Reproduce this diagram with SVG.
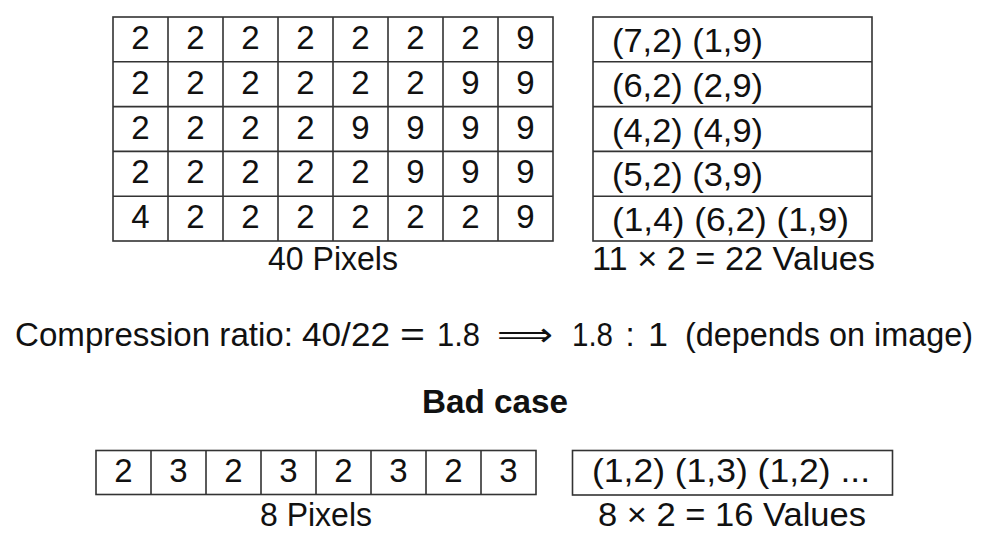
<svg xmlns="http://www.w3.org/2000/svg" width="1008" height="550" viewBox="0 0 1008 550">
<style>
text{font-family:"Liberation Sans","DejaVu Sans",sans-serif;fill:#111;}
.c{font-size:33px;text-anchor:middle;}
.t{font-size:33px;}
.g{fill:none;stroke:#333;stroke-width:1.6;}
.b{font-weight:bold;}
</style>
<rect width="1008" height="550" fill="#fff"/>
<g id="pixel-grid">
<rect class="g" x="113" y="17" width="440" height="224"/>
<path class="g" d="M168 17V241M223 17V241M278 17V241M333 17V241M388 17V241M443 17V241M498 17V241M113 61.8H553M113 106.6H553M113 151.4H553M113 196.2H553"/>
<g class="c">
<text x="140.5" y="49">2</text><text x="195.5" y="49">2</text><text x="250.5" y="49">2</text><text x="305.5" y="49">2</text><text x="360.5" y="49">2</text><text x="415.5" y="49">2</text><text x="470.5" y="49">2</text><text x="525.5" y="49">9</text>
<text x="140.5" y="93.8">2</text><text x="195.5" y="93.8">2</text><text x="250.5" y="93.8">2</text><text x="305.5" y="93.8">2</text><text x="360.5" y="93.8">2</text><text x="415.5" y="93.8">2</text><text x="470.5" y="93.8">9</text><text x="525.5" y="93.8">9</text>
<text x="140.5" y="138.6">2</text><text x="195.5" y="138.6">2</text><text x="250.5" y="138.6">2</text><text x="305.5" y="138.6">2</text><text x="360.5" y="138.6">9</text><text x="415.5" y="138.6">9</text><text x="470.5" y="138.6">9</text><text x="525.5" y="138.6">9</text>
<text x="140.5" y="183.4">2</text><text x="195.5" y="183.4">2</text><text x="250.5" y="183.4">2</text><text x="305.5" y="183.4">2</text><text x="360.5" y="183.4">2</text><text x="415.5" y="183.4">9</text><text x="470.5" y="183.4">9</text><text x="525.5" y="183.4">9</text>
<text x="140.5" y="228.2">4</text><text x="195.5" y="228.2">2</text><text x="250.5" y="228.2">2</text><text x="305.5" y="228.2">2</text><text x="360.5" y="228.2">2</text><text x="415.5" y="228.2">2</text><text x="470.5" y="228.2">2</text><text x="525.5" y="228.2">9</text>
</g>
<text class="t" x="268" y="270" textLength="130" lengthAdjust="spacingAndGlyphs">40 Pixels</text>
</g>
<g id="rle-table">
<rect class="g" x="593" y="17" width="279" height="224"/>
<path class="g" d="M593 61.8H872M593 106.6H872M593 151.4H872M593 196.2H872"/>
<text class="t" x="612" y="52" textLength="151" lengthAdjust="spacingAndGlyphs">(7,2) (1,9)</text>
<text class="t" x="612" y="96.8" textLength="151" lengthAdjust="spacingAndGlyphs">(6,2) (2,9)</text>
<text class="t" x="612" y="141.6" textLength="151" lengthAdjust="spacingAndGlyphs">(4,2) (4,9)</text>
<text class="t" x="612" y="186.4" textLength="151" lengthAdjust="spacingAndGlyphs">(5,2) (3,9)</text>
<text class="t" x="612" y="231.2" textLength="237" lengthAdjust="spacingAndGlyphs">(1,4) (6,2) (1,9)</text>
<text class="t" x="592" y="270" textLength="283" lengthAdjust="spacingAndGlyphs">11 × 2 = 22 Values</text>
</g>
<g id="ratio" class="t">
<text x="15" y="346" textLength="278" lengthAdjust="spacingAndGlyphs">Compression ratio:</text>
<text x="302" y="346" textLength="88" lengthAdjust="spacingAndGlyphs">40/22</text>
<text x="400" y="346" textLength="25" lengthAdjust="spacingAndGlyphs">=</text>
<text x="437" y="346" textLength="43" lengthAdjust="spacingAndGlyphs">1.8</text>
<text x="497" y="346" font-family="DejaVu Sans" textLength="56" lengthAdjust="spacingAndGlyphs">⟹</text>
<text x="572" y="346" textLength="41" lengthAdjust="spacingAndGlyphs">1.8</text>
<text x="630" y="346" text-anchor="middle">:</text>
<text x="648" y="346" textLength="20" lengthAdjust="spacingAndGlyphs">1</text>
<text x="685" y="346" textLength="288" lengthAdjust="spacingAndGlyphs">(depends on image)</text>
</g>
<text id="bad-case" class="t b" x="422" y="413" textLength="146" lengthAdjust="spacingAndGlyphs">Bad case</text>
<g id="bad-pixels">
<rect class="g" x="96" y="450.5" width="440" height="44"/>
<path class="g" d="M151 450.5V494.5M206 450.5V494.5M261 450.5V494.5M316 450.5V494.5M371 450.5V494.5M426 450.5V494.5M481 450.5V494.5"/>
<g class="c">
<text x="123.5" y="482">2</text><text x="178.5" y="482">3</text><text x="233.5" y="482">2</text><text x="288.5" y="482">3</text><text x="343.5" y="482">2</text><text x="398.5" y="482">3</text><text x="453.5" y="482">2</text><text x="508.5" y="482">3</text>
</g>
<text class="t" x="260" y="526" textLength="112" lengthAdjust="spacingAndGlyphs">8 Pixels</text>
</g>
<g id="bad-rle">
<rect class="g" x="572.5" y="450.5" width="320" height="44.5"/>
<text class="t" x="592" y="482" textLength="278" lengthAdjust="spacingAndGlyphs">(1,2) (1,3) (1,2) ...</text>
<text class="t" x="598" y="526" textLength="268" lengthAdjust="spacingAndGlyphs">8 × 2 = 16 Values</text>
</g>
</svg>
